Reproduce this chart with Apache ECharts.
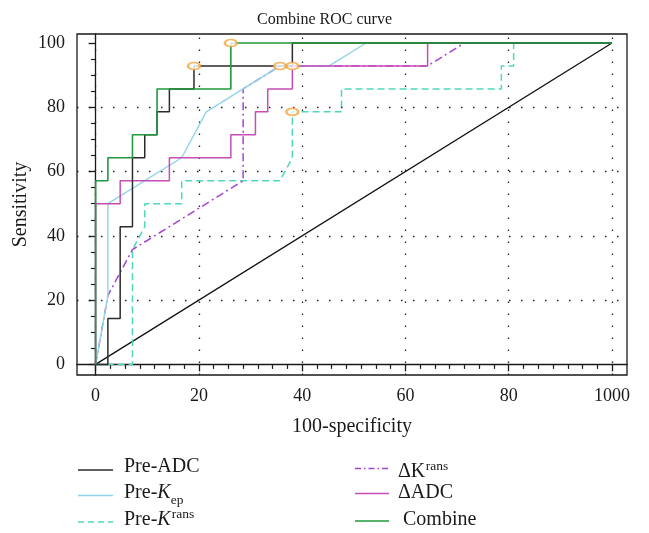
<!DOCTYPE html>
<html>
<head>
<meta charset="utf-8">
<script src="https://cdn.jsdelivr.net/npm/echarts@6/dist/echarts.min.js"></script>
<style>
html,body{margin:0;padding:0;background:#fff;}
#chart{width:649px;height:533px;}
</style>
</head>
<body>
<div id="chart"></div>
<script>
// ---- data (x = 100-specificity, y = sensitivity) ----
const xTickValues = [0, 20, 40, 60, 80, 100];
const xTickLabels = ['0', '20', '40', '60', '80', '1000'];
const yTickValues = [0, 20, 40, 60, 80, 100];
const yTickLabels = ['0', '20', '40', '60', '80', '100'];
const xGridValues = [0, 20, 40, 60, 80, 100];
const yGridValues = [20, 40, 60, 80];

const refDiagonal = [[0, 0], [100, 100]];
const preADC = [[0,0],[2.38,0],[2.38,14.29],[4.76,14.29],[4.76,42.86],[7.14,42.86],[7.14,64.29],[9.52,64.29],[9.52,71.43],[11.9,71.43],[11.9,78.57],[14.29,78.57],[14.29,85.71],[19.05,85.71],[19.05,92.86],[38.1,92.86],[38.1,100],[100,100]];
const preKep = [[0,0],[2.38,21.43],[2.38,50],[16.67,64.29],[21.43,78.57],[35.71,92.86],[45.24,92.86],[52.38,100],[100,100]];
const preKtrans = [[0,0],[7.14,0],[7.14,35.71],[9.52,42.86],[9.52,50],[16.67,50],[16.67,57.14],[35.71,57.14],[38.1,64.29],[38.1,78.57],[47.62,78.57],[47.62,85.71],[78.57,85.71],[78.57,92.86],[80.95,92.86],[80.95,100],[100,100]];
const deltaKtrans = [[0,0],[2.38,21.43],[7.14,35.71],[28.57,57.14],[28.57,85.71],[35.71,92.86],[64.29,92.86],[71.43,100],[100,100]];
const deltaADC = [[0,0],[0,50],[4.76,50],[4.76,57.14],[14.29,57.14],[14.29,64.29],[26.19,64.29],[26.19,71.43],[30.95,71.43],[30.95,78.57],[33.33,78.57],[33.33,85.71],[38.1,85.71],[38.1,92.86],[64.29,92.86],[64.29,100],[100,100]];
const combine = [[0,0],[0,57.14],[2.38,57.14],[2.38,64.29],[7.14,64.29],[7.14,71.43],[11.9,71.43],[11.9,85.71],[26.19,85.71],[26.19,100],[100,100]];
const cutoffPoints = [[19.05,92.86],[26.19,100],[35.71,92.86],[38.1,92.86],[38.1,78.57]];

// ---- styling ----
const FONT = '"Liberation Serif", "Times New Roman", serif';
const INK = '#1a1a1a';
const C = {
  preADC: '#2b2b2b', preKep: '#8fd4ea', preKtrans: '#4fd8bd',
  deltaKtrans: '#a445d0', deltaADC: '#c64db6', combine: '#1f9a3c', cutoff: '#f5a53c'
};
const X_MIN = -3.6, X_MAX = 102.9, Y_MIN = -3.3, Y_MAX = 102.8;

const minorX = [];
for (let i = 0; i <= 35; i++) { const v = i * 20 / 7; if (i % 7 !== 0) minorX.push(+v.toFixed(4)); }
const minorY = [];
for (let v = 5; v < 100; v += 5) { if (v % 20 !== 0) minorY.push(v); }

function lineSeries(name, data, color, type, width, z) {
  return {
    name, type: 'line', data, showSymbol: false, symbol: 'none', z: z,
    lineStyle: { color, width: width || 1.4, type: type || 'solid' },
    silent: true, animation: false
  };
}

// ---- legend via graphic ----
const mctx = document.createElement('canvas').getContext('2d');
function tw(t, size, style) { mctx.font = (style || 'normal') + ' ' + size + 'px ' + FONT; return mctx.measureText(t).width; }
function txt(x, y, t, size, style) {
  return { type: 'text', x: x, y: y, silent: true, style: { text: t, fontSize: size, fontFamily: FONT, fontStyle: style || 'normal', fill: INK, verticalAlign: 'middle', align: 'left' } };
}
function seg(x1, x2, y, color, dash, width) {
  return { type: 'line', silent: true, shape: { x1, y1: y, x2, y2: y }, style: { stroke: color, lineWidth: width || 1.6, lineDash: dash || null } };
}
const LS = 20, SS = 13.5;
const graphics = [];
// left column
const lx1 = 78, lx2 = 113, ltx = 124;
graphics.push(seg(lx1, lx2, 470, C.preADC));
graphics.push(txt(ltx, 467, 'Pre-ADC', LS));
graphics.push(seg(lx1, lx2, 495.5, C.preKep));
(function () {
  let x = ltx; const y = 492.5;
  graphics.push(txt(x, y, 'Pre-', LS)); x += tw('Pre-', LS);
  graphics.push(txt(x, y, 'K', LS, 'italic')); x += tw('K', LS, 'italic');
  graphics.push(txt(x, y + 8, 'ep', SS));
})();
graphics.push(seg(lx1, lx2, 522, C.preKtrans, [6, 4]));
(function () {
  let x = ltx; const y = 520;
  graphics.push(txt(x, y, 'Pre-', LS)); x += tw('Pre-', LS);
  graphics.push(txt(x, y, 'K', LS, 'italic')); x += tw('K', LS, 'italic') + 1;
  graphics.push(txt(x, y - 5.5, 'rans', SS));
})();
// right column
const rx1 = 355, rx2 = 389, rtx = 398;
graphics.push(seg(rx1, rx2, 468.5, C.deltaKtrans, [6, 3, 1.5, 3]));
(function () {
  let x = rtx; const y = 472;
  graphics.push(txt(x, y, 'ΔK', LS)); x += tw('ΔK', LS) + 0.5;
  graphics.push(txt(x, y - 5.5, 'rans', SS));
})();
graphics.push(seg(rx1, rx2, 493.5, C.deltaADC));
graphics.push(txt(rtx, 493, 'ΔADC', LS));
graphics.push(seg(rx1, rx2, 521, C.combine));
graphics.push(txt(rtx + 5, 520, 'Combine', LS));

const axisLabelStyle = { fontFamily: FONT, fontSize: 18, color: INK };

const option = {
  animation: false,
  backgroundColor: '#fff',
  title: {
    text: 'Combine ROC curve', left: 'center', top: 7,
    textStyle: { fontFamily: FONT, fontSize: 16, fontWeight: 'normal', color: INK }
  },
  grid: { left: 77, right: 22, top: 34, bottom: 158, show: true, borderColor: INK, borderWidth: 1.3, backgroundColor: 'transparent' },
  xAxis: [
    {
      type: 'value', min: X_MIN, max: X_MAX, position: 'bottom',
      name: '100-specificity', nameLocation: 'middle', nameGap: 42,
      nameTextStyle: { fontFamily: FONT, fontSize: 20, color: INK },
      axisLine: { show: true, lineStyle: { color: INK, width: 1.3 } },
      axisTick: { show: true, length: 7, inside: false, customValues: xTickValues, lineStyle: { color: INK, width: 1.3 } },
      axisLabel: {
        show: true, margin: 12, customValues: xTickValues, ...axisLabelStyle,
        formatter: function (v) { const i = xTickValues.indexOf(Math.round(v)); return i >= 0 ? xTickLabels[i] : ''; }
      },
      splitLine: { show: false }, minorTick: { show: false }
    },
    {
      type: 'value', min: X_MIN, max: X_MAX, position: 'bottom',
      axisLine: { show: false },
      axisTick: { show: true, length: 4.5, customValues: minorX, lineStyle: { color: INK, width: 1.2 } },
      axisLabel: { show: false }, splitLine: { show: false }
    }
  ],
  yAxis: [
    {
      type: 'value', min: Y_MIN, max: Y_MAX, position: 'left',
      name: 'Sensitivity', nameLocation: 'middle', nameGap: 46, nameRotate: 90, nameMoveOverlap: false,
      nameTextStyle: { fontFamily: FONT, fontSize: 20, color: INK },
      axisLine: { show: true, lineStyle: { color: INK, width: 1.3 } },
      axisTick: { show: true, length: 7, inside: false, customValues: yTickValues, lineStyle: { color: INK, width: 1.3 } },
      axisLabel: {
        show: true, margin: 12, customValues: yTickValues, ...axisLabelStyle,
        formatter: function (v) { const i = yTickValues.indexOf(Math.round(v)); return i >= 0 ? yTickLabels[i] : ''; }
      },
      splitLine: { show: false }, minorTick: { show: false }
    },
    {
      type: 'value', min: Y_MIN, max: Y_MAX, position: 'left',
      axisLine: { show: false },
      axisTick: { show: true, length: 4.5, customValues: minorY, lineStyle: { color: INK, width: 1.2 } },
      axisLabel: { show: false }, splitLine: { show: false }
    }
  ],
  graphic: graphics,
  series: [
    Object.assign(lineSeries('Reference', refDiagonal, '#111', 'solid', 1.3, 2), {
      markLine: {
        silent: true, symbol: ['none', 'none'], label: { show: false }, animation: false,
        lineStyle: { color: '#222', type: [1.5, 10.5], width: 1.3 },
        emphasis: { disabled: true },
        data: xGridValues.map(v => ({ xAxis: v })).concat(yGridValues.map(v => ({ yAxis: v })))
      }
    }),
    lineSeries('Pre-Ktrans', preKtrans, C.preKtrans, [7, 4], 1.5, 3),
    lineSeries('ΔKtrans', deltaKtrans, C.deltaKtrans, [8, 3.5, 2, 3.5], 1.5, 4),
    lineSeries('Pre-Kep', preKep, C.preKep, 'solid', 1.4, 5),
    lineSeries('ΔADC', deltaADC, C.deltaADC, 'solid', 1.5, 6),
    lineSeries('Pre-ADC', preADC, C.preADC, 'solid', 1.5, 7),
    lineSeries('Combine', combine, C.combine, 'solid', 1.6, 8),
    {
      name: 'Cutoff', type: 'scatter', data: cutoffPoints, z: 10, silent: true,
      symbol: 'emptyCircle', symbolSize: [12, 7],
      itemStyle: { color: C.cutoff, borderColor: C.cutoff, borderWidth: 1.5 }
    }
  ]
};

const chart = echarts.init(document.getElementById('chart'), null, { renderer: 'canvas', devicePixelRatio: 1 });
chart.setOption(option);
</script>
</body>
</html>
